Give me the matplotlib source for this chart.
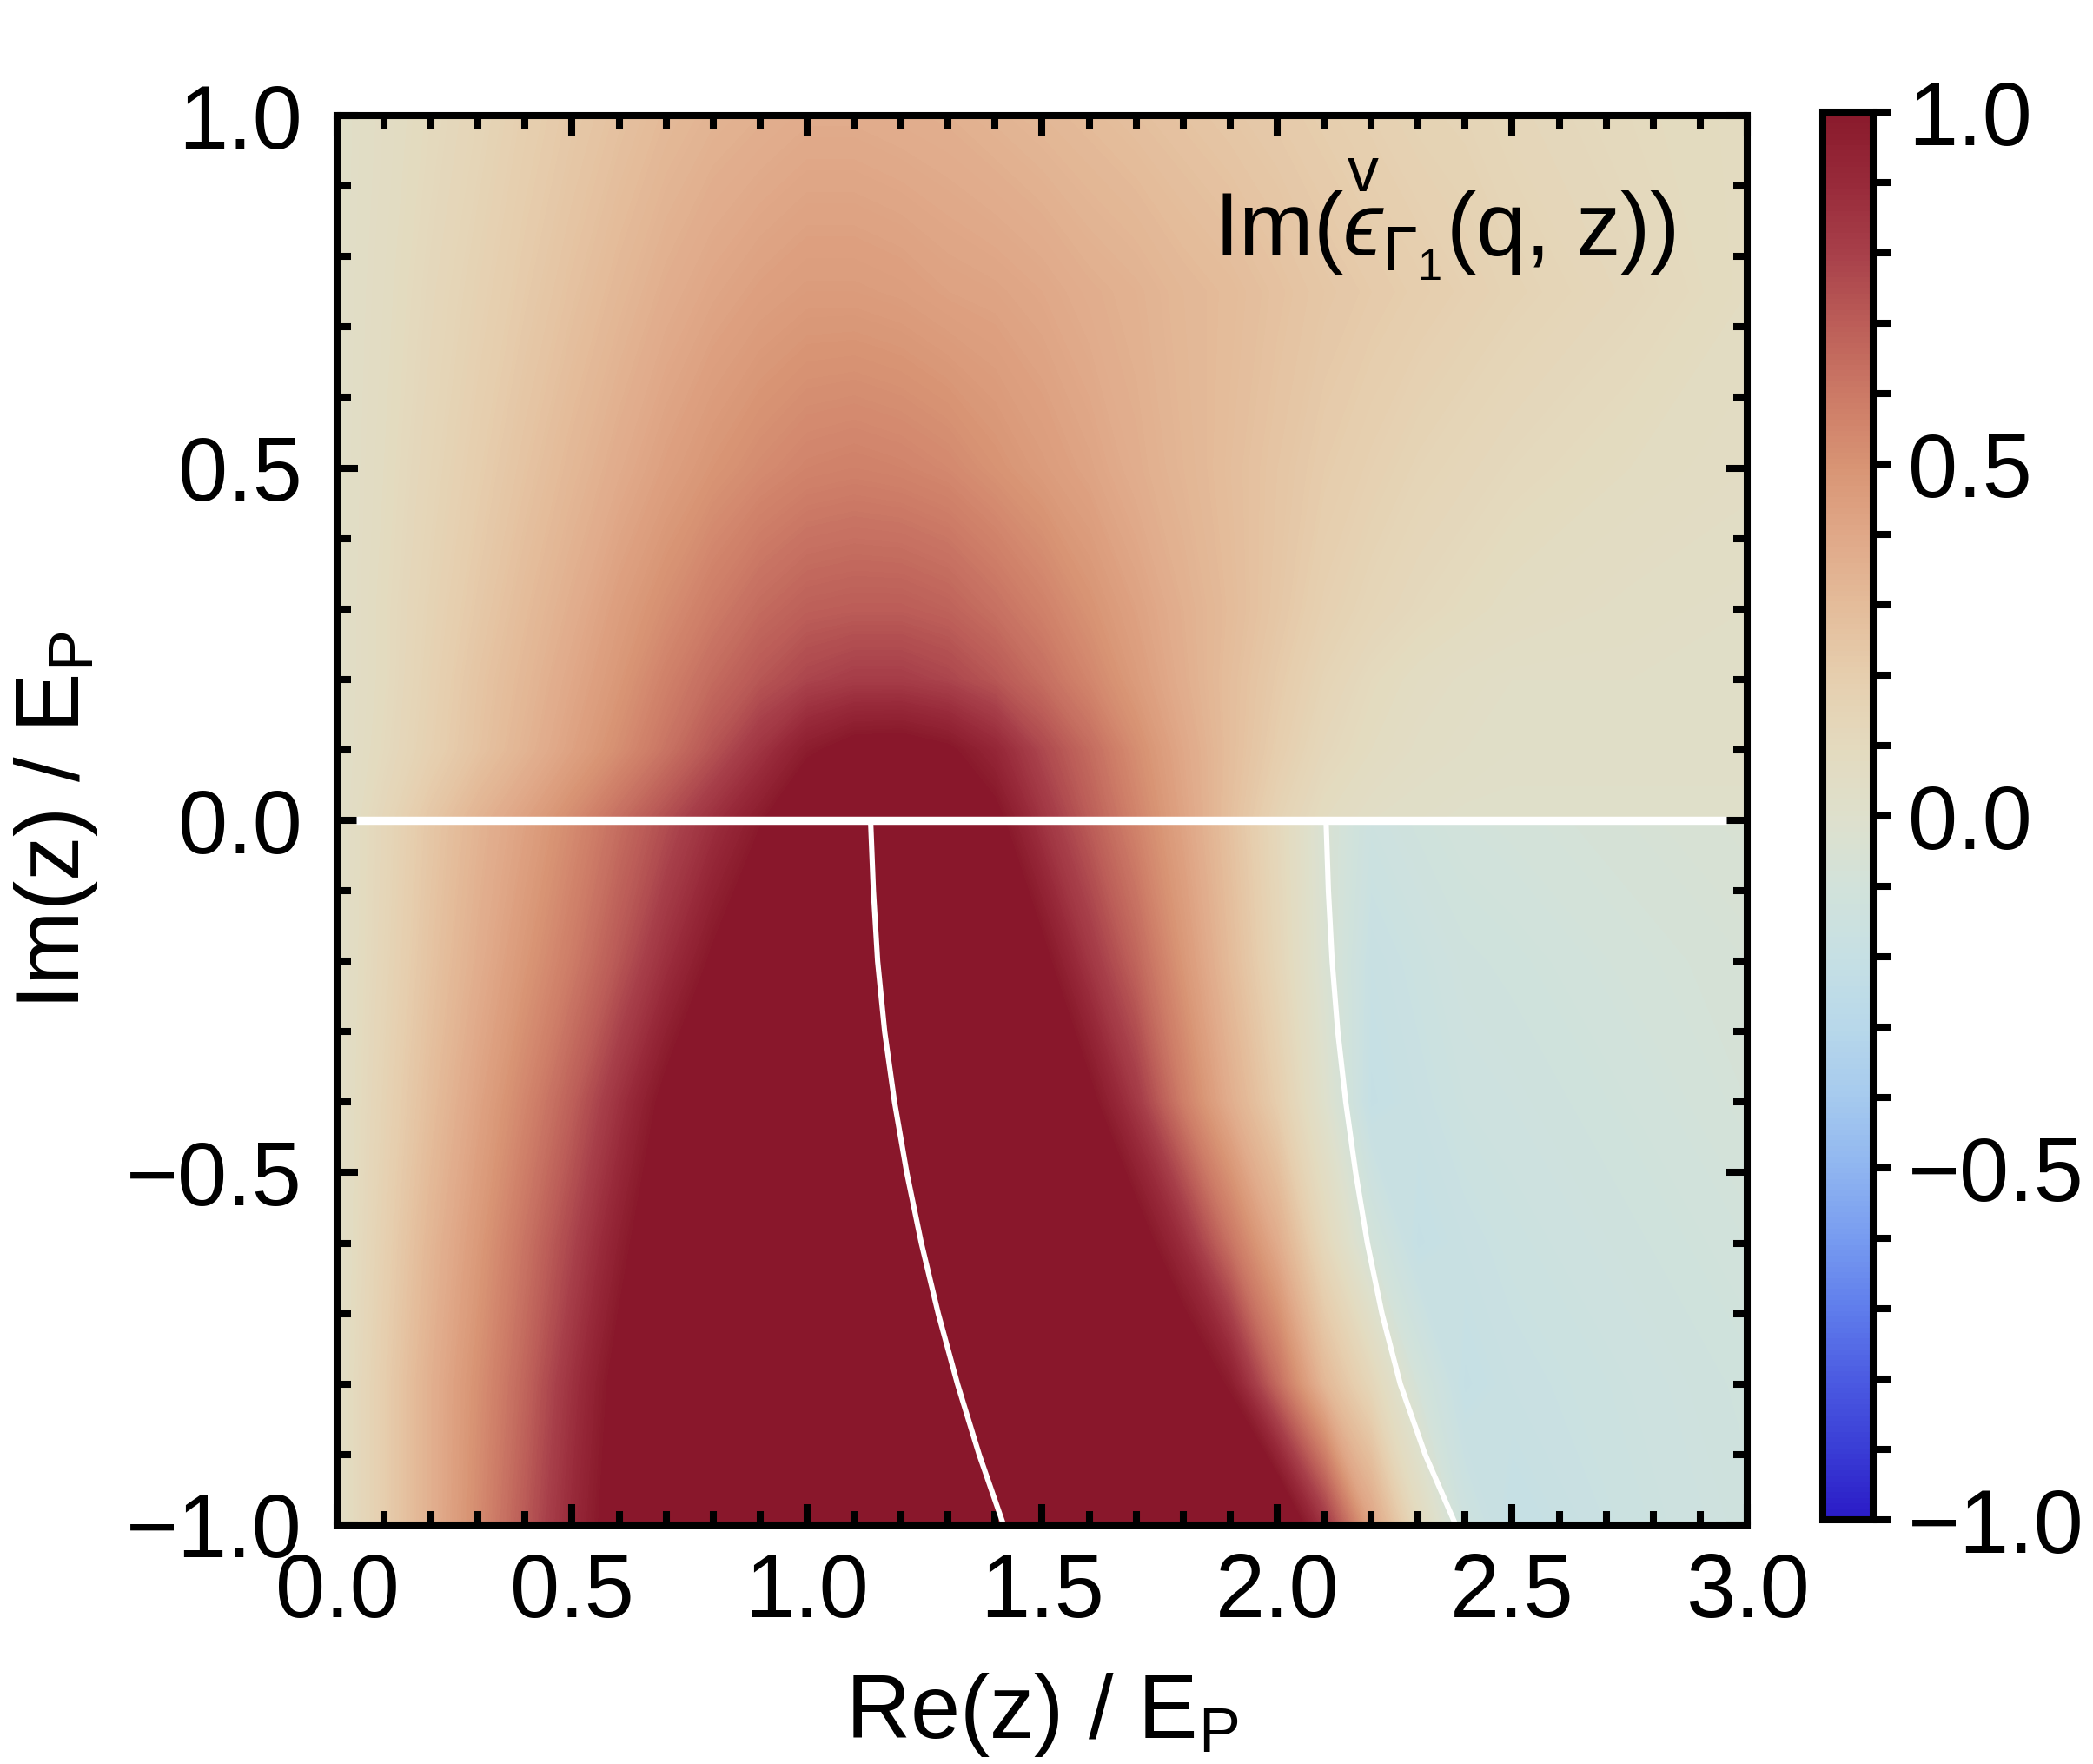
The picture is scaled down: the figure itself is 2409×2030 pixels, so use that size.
import numpy as np
import matplotlib.pyplot as plt
from matplotlib.colors import LinearSegmentedColormap, Normalize
from matplotlib.cm import ScalarMappable
from matplotlib.ticker import MultipleLocator

plt.rcParams['font.family'] = ['Liberation Sans', 'DejaVu Sans']
plt.rcParams['mathtext.fontset'] = 'custom'
plt.rcParams['mathtext.rm'] = 'Liberation Sans'
plt.rcParams['mathtext.it'] = 'Liberation Sans:italic'
plt.rcParams['mathtext.bf'] = 'Liberation Sans:bold'

# sample grid: Re(z) columns, Im(z) rows
re_vals = [0.0, 0.1, 0.2, 0.3, 0.4, 0.5, 0.6, 0.7, 0.8, 0.9, 1.0, 1.1, 1.2, 1.3,
           1.4, 1.5, 1.6, 1.7, 1.8, 1.9, 2.0, 2.1, 2.2, 2.3, 2.4, 2.5, 2.75, 3.0]
im_upper = [0.0, 0.1, 0.2, 0.3, 0.5, 0.75, 1.0]
im_lower = [0.0, -0.2, -0.4, -0.6, -0.8, -1.0]

# Im(eps) above the real axis (values > 1 are saturated)
eps_upper = [
    [0.03, 0.13, 0.24, 0.34, 0.43, 0.53, 0.64, 0.75, 0.87, 0.99, 1.15, 1.25, 1.25, 1.18,
     1.04, 0.85, 0.70, 0.56, 0.42, 0.28, 0.16, 0.08, 0.04, 0.03, 0.02, 0.02, 0.02, 0.02],
    [0.03, 0.10, 0.18, 0.26, 0.34, 0.43, 0.52, 0.62, 0.73, 0.85, 0.98, 1.05, 1.06, 1.02,
     0.92, 0.77, 0.65, 0.52, 0.40, 0.29, 0.20, 0.12, 0.08, 0.05, 0.04, 0.03, 0.03, 0.03],
    [0.03, 0.09, 0.17, 0.25, 0.32, 0.40, 0.48, 0.57, 0.65, 0.72, 0.78, 0.81, 0.81, 0.78,
     0.72, 0.64, 0.55, 0.46, 0.37, 0.29, 0.22, 0.15, 0.10, 0.07, 0.05, 0.04, 0.04, 0.04],
    [0.03, 0.09, 0.16, 0.23, 0.30, 0.37, 0.45, 0.52, 0.59, 0.65, 0.69, 0.70, 0.70, 0.68,
     0.63, 0.57, 0.50, 0.43, 0.36, 0.30, 0.24, 0.18, 0.14, 0.11, 0.09, 0.07, 0.05, 0.04],
    [0.03, 0.08, 0.14, 0.20, 0.26, 0.32, 0.38, 0.44, 0.49, 0.53, 0.56, 0.57, 0.56, 0.54,
     0.50, 0.46, 0.42, 0.37, 0.33, 0.29, 0.25, 0.21, 0.18, 0.15, 0.13, 0.11, 0.08, 0.06],
    [0.03, 0.07, 0.12, 0.17, 0.22, 0.27, 0.32, 0.37, 0.41, 0.44, 0.46, 0.46, 0.45, 0.43,
     0.42, 0.40, 0.37, 0.35, 0.32, 0.30, 0.27, 0.24, 0.22, 0.20, 0.18, 0.16, 0.12, 0.08],
    [0.03, 0.06, 0.10, 0.14, 0.19, 0.23, 0.27, 0.31, 0.34, 0.36, 0.38, 0.38, 0.37, 0.36,
     0.34, 0.32, 0.30, 0.28, 0.26, 0.24, 0.22, 0.20, 0.18, 0.16, 0.15, 0.13, 0.10, 0.08],
]

# Im(eps) below the real axis
eps_lower = [
    [0.03, 0.13, 0.24, 0.34, 0.43, 0.53, 0.64, 0.75, 0.87, 0.99, 1.15, 1.25, 1.25, 1.18,
     1.04, 0.85, 0.70, 0.56, 0.42, 0.27, 0.12, -0.05, -0.15, -0.12, -0.10, -0.09, -0.07, -0.05],
    [0.03, 0.14, 0.26, 0.37, 0.48, 0.59, 0.72, 0.87, 1.02, 1.20, 1.30, 1.30, 1.30, 1.30,
     1.20, 1.04, 0.84, 0.67, 0.48, 0.30, 0.14, -0.04, -0.19, -0.16, -0.13, -0.12, -0.09, -0.07],
    [0.03, 0.16, 0.29, 0.42, 0.55, 0.69, 0.86, 1.04, 1.20, 1.30, 1.30, 1.30, 1.30, 1.30,
     1.30, 1.20, 1.04, 0.83, 0.58, 0.37, 0.20, 0.00, -0.21, -0.18, -0.15, -0.14, -0.11, -0.08],
    [0.03, 0.18, 0.33, 0.47, 0.62, 0.78, 0.96, 1.13, 1.30, 1.30, 1.30, 1.30, 1.30, 1.30,
     1.30, 1.30, 1.20, 1.08, 0.88, 0.62, 0.38, 0.12, -0.09, -0.21, -0.18, -0.16, -0.13, -0.10],
    [0.04, 0.20, 0.36, 0.51, 0.67, 0.86, 1.05, 1.20, 1.30, 1.30, 1.30, 1.30, 1.30, 1.30,
     1.30, 1.30, 1.30, 1.30, 1.15, 0.98, 0.65, 0.32, 0.13, -0.09, -0.21, -0.18, -0.15, -0.12],
    [0.04, 0.20, 0.36, 0.53, 0.71, 0.90, 1.08, 1.20, 1.30, 1.30, 1.30, 1.30, 1.30, 1.30,
     1.30, 1.30, 1.30, 1.30, 1.30, 1.30, 1.20, 0.85, 0.42, 0.10, -0.14, -0.21, -0.16, -0.13],
]

# white lines: real-axis cut and the two branch curves
cut_re = [0.04, 2.955]
cut_im = [0.0, 0.0]
branch_im = [0.0, -0.1, -0.2, -0.3, -0.4, -0.5, -0.6, -0.7, -0.8, -0.9, -1.0]
branch1_re = [1.135, 1.141, 1.150, 1.165, 1.186, 1.212, 1.243, 1.279, 1.320, 1.366, 1.418]
branch2_re = [2.104, 2.109, 2.117, 2.129, 2.146, 2.167, 2.192, 2.223, 2.262, 2.315, 2.380]

# colour scale
cmap_pos = [-1.0, -0.9, -0.8, -0.7, -0.6, -0.5, -0.4, -0.3, -0.2, -0.1, 0.0,
            0.1, 0.2, 0.3, 0.4, 0.5, 0.6, 0.7, 0.8, 0.9, 1.0]
cmap_hex = ['#2a1bc6', '#3a3ed6', '#4c5ce2', '#607eec', '#789cf0', '#90b6f0',
            '#a6caee', '#b8d8ea', '#c6e0e4', '#d2e2da', '#dee0cc', '#e4dabe',
            '#e6ceae', '#e4bc9a', '#e0a888', '#d89474', '#cc7a66', '#bc5e58',
            '#a8404a', '#982a3a', '#8a1a2c']
cbar_ticks = [-1.0, -0.9, -0.8, -0.7, -0.6, -0.5, -0.4, -0.3, -0.2, -0.1, 0.0,
              0.1, 0.2, 0.3, 0.4, 0.5, 0.6, 0.7, 0.8, 0.9, 1.0]
cbar_labels = ['\u22121.0', '', '', '', '', '\u22120.5', '', '', '', '', '0.0',
               '', '', '', '', '0.5', '', '', '', '', '1.0']

cmap = LinearSegmentedColormap.from_list(
    'thermo', list(zip([(p + 1) / 2 for p in cmap_pos], cmap_hex)))
cmap.set_over('#89172b')
cmap.set_under(cmap_hex[0])
norm = Normalize(vmin=-1, vmax=1)

fig = plt.figure(figsize=(12.045, 10.15), dpi=200)
ax = fig.add_axes([0.16106, 0.13547, 0.67372, 0.79901])
cax = fig.add_axes([0.87090, 0.13842, 0.02408, 0.79803])

levels = np.linspace(-1, 1, 401)
for ims, vals in [(im_upper, eps_upper), (im_lower, eps_lower)]:
    X, Y = np.meshgrid(re_vals, ims)
    ax.contourf(X, Y, np.array(vals), levels=levels, cmap=cmap, norm=norm,
                extend='both', antialiased=False)

ax.plot(cut_re, cut_im, color='white', lw=3.4, solid_capstyle='butt')
ax.plot(branch1_re, branch_im, color='white', lw=2.2)
ax.plot(branch2_re, branch_im, color='white', lw=2.2)

ax.set_xlim(0, 3)
ax.set_ylim(-1, 1)
ax.xaxis.set_major_locator(MultipleLocator(0.5))
ax.xaxis.set_minor_locator(MultipleLocator(0.1))
ax.yaxis.set_major_locator(MultipleLocator(0.5))
ax.yaxis.set_minor_locator(MultipleLocator(0.1))
ax.tick_params(which='both', direction='in', top=True, right=True,
               width=2.9, labelsize=37)
ax.tick_params(which='major', length=8.6)
ax.tick_params(which='minor', length=5.7)
ax.tick_params(axis='x', pad=11)
ax.tick_params(axis='y', pad=14.4)
for sp in ax.spines.values():
    sp.set_linewidth(2.9)

ax.set_xlabel(r'Re(z) / $\mathregular{E_P}$', fontsize=37)
ax.xaxis.set_label_coords(0.5, -0.1036)
ax.set_ylabel(r'Im(z) / $\mathregular{E_P}$', fontsize=37)
ax.yaxis.set_label_coords(-0.168, 0.5)

# lunate epsilon (U+03F5) with a check mark above
ax.text(2.848, 0.8002, 'Im($\\overset{\\mathrm{v}}{\u03f5}_{\\Gamma_1}$(q, z))',
        ha='right', va='baseline', fontsize=37)

cb = fig.colorbar(ScalarMappable(norm=norm, cmap=cmap), cax=cax)
cb.set_ticks(cbar_ticks, labels=cbar_labels)
cb.ax.minorticks_off()
cb.ax.tick_params(direction='out', length=7.2, width=2.9, labelsize=37, pad=7.2)
cb.outline.set_linewidth(2.9)

fig.savefig('out.png', dpi=200)
